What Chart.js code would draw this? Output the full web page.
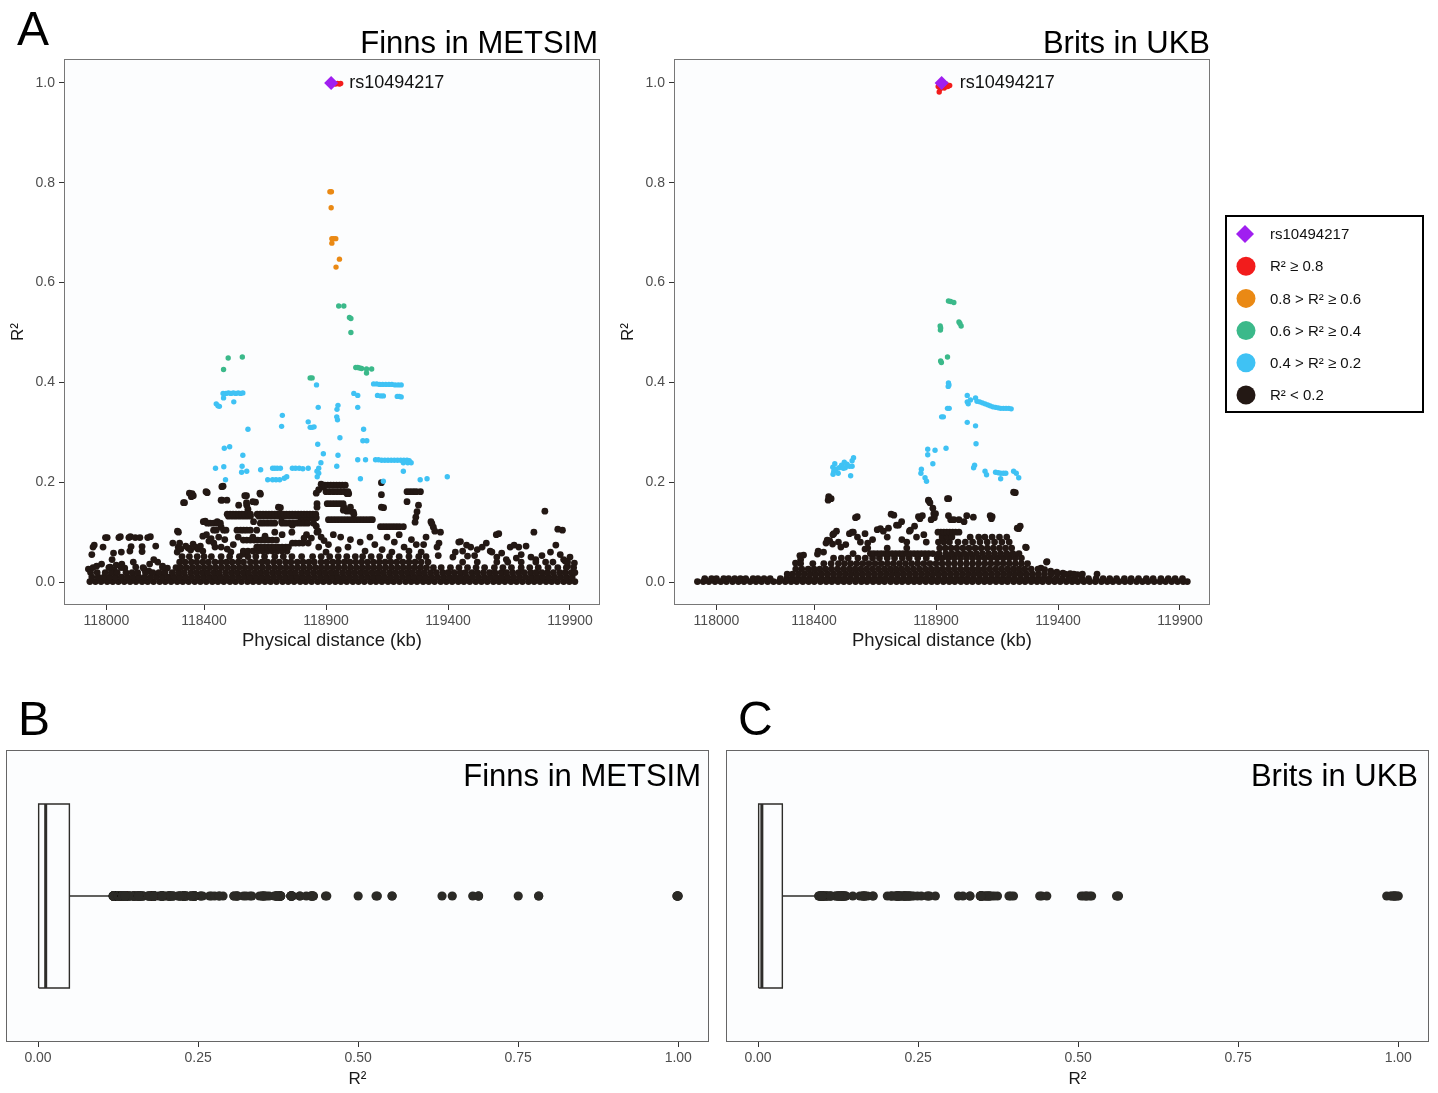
<!DOCTYPE html>
<html>
<head>
<meta charset="utf-8">
<script src="https://cdn.jsdelivr.net/npm/chart.js@4.4.1/dist/chart.umd.min.js"></script>
<style>
  body { margin: 0; background: #fff; width: 1438px; height: 1093px; position: relative; overflow: hidden; }
  .panel { position: absolute; }
</style>
</head>
<body>
<div class="panel" style="left:0;top:0"><canvas id="finnsLd" width="610" height="660"></canvas></div>
<div class="panel" style="left:612px;top:0"><canvas id="britsLd" width="826" height="660"></canvas></div>
<div class="panel" style="left:0;top:690px"><canvas id="finnsBox" width="718" height="403"></canvas></div>
<div class="panel" style="left:720px;top:690px"><canvas id="britsBox" width="718" height="403"></canvas></div>
<script>
// Figura LD: R2 com rs10494217 em Finns (METSIM) e Brits (UKB)
const fam = '"Liberation Sans", Arial, sans-serif';

// Classes de LD (ordem da legenda)
const ldLabels = ['rs10494217', 'R² ≥ 0.8', '0.8 > R² ≥ 0.6', '0.6 > R² ≥ 0.4', '0.4 > R² ≥ 0.2', 'R² < 0.2'];
const ldColors = ['#a01ff0', '#f21c1c', '#ea8914', '#3bb98a', '#3fc2f4', '#231814'];

// Eixos
const kbTicks = [118000, 118400, 118900, 119400, 119900];
const r2Ticks = [0, 0.2, 0.4, 0.6, 0.8, 1.0];
const boxTicks = [0, 0.25, 0.5, 0.75, 1.0];

// ---------- Finns in METSIM: [kb, R2] ----------
const finnsLead = [[118921, 1.0]];
const finnsRed = [[118930, 0.999], [118939, 0.998], [118947, 0.999], [118955, 0.998], [118960, 0.999]];
const finnsOrange = [[118916, 0.782], [118922, 0.782], [118921, 0.750], [118924, 0.688], [118932, 0.688], [118940, 0.688],
  [118924, 0.679], [118955, 0.647], [118941, 0.631]];
const finnsGreen = [[118952, 0.553], [118973, 0.553], [118996, 0.530], [119002, 0.528], [119002, 0.500], [118480, 0.426],
  [118499, 0.449], [118557, 0.451], [118835, 0.409], [118843, 0.409], [119022, 0.430], [119030, 0.430], [119038, 0.429],
  [119046, 0.428], [119066, 0.427], [119087, 0.427], [119066, 0.419]];
const finnsBlue = [[118450, 0.357], [118457, 0.353], [118463, 0.352],
  [118478, 0.378], [118490, 0.378], [118500, 0.379], [118510, 0.378], [118520, 0.379], [118530, 0.378], [118540, 0.379],
  [118550, 0.378], [118559, 0.379], [118480, 0.369], [118522, 0.361],
  [118580, 0.306], [118483, 0.268], [118505, 0.271], [118559, 0.254],
  [118447, 0.228], [118481, 0.231], [118556, 0.232], [118554, 0.220], [118575, 0.222], [118488, 0.205],
  [118632, 0.225], [118681, 0.228], [118690, 0.228], [118700, 0.228], [118713, 0.228], [118661, 0.205], [118681, 0.205],
  [118695, 0.205], [118710, 0.205], [118729, 0.208], [118739, 0.211], [118762, 0.228], [118775, 0.228], [118790, 0.228],
  [118805, 0.227], [118827, 0.228], [118863, 0.222], [118864, 0.211],
  [118721, 0.334], [118718, 0.312], [118827, 0.321], [118835, 0.310], [118843, 0.310], [118851, 0.311],
  [118861, 0.395], [118868, 0.350], [118866, 0.276], [118889, 0.257], [118879, 0.239], [118870, 0.228], [118870, 0.218],
  [118949, 0.354], [118945, 0.346], [118944, 0.331], [118947, 0.325], [118957, 0.289], [118949, 0.254], [118944, 0.232],
  [119014, 0.378], [119030, 0.374], [119030, 0.350], [119054, 0.306], [119051, 0.283], [119067, 0.283], [119030, 0.245],
  [119062, 0.245], [119041, 0.207],
  [119095, 0.397], [119108, 0.397], [119120, 0.396], [119132, 0.396], [119145, 0.396], [119158, 0.396], [119170, 0.396],
  [119183, 0.395], [119196, 0.395], [119208, 0.395], [119111, 0.374], [119125, 0.373], [119135, 0.373], [119192, 0.372],
  [119200, 0.372], [119208, 0.371],
  [119103, 0.245], [119115, 0.245], [119128, 0.244], [119141, 0.244], [119154, 0.244], [119167, 0.244], [119180, 0.244],
  [119193, 0.244], [119206, 0.244], [119219, 0.244], [119232, 0.244], [119241, 0.243], [119217, 0.239], [119235, 0.239],
  [119249, 0.239], [119217, 0.222], [119135, 0.202], [119286, 0.205], [119314, 0.207], [119397, 0.211]];
const finnsBlack = [[117926, 0.026], [117945, 0.070], [117950, 0.074], [117940, 0.055], [117986, 0.070], [117996, 0.089],
  [118003, 0.089], [117980, 0.036], [118023, 0.045], [118029, 0.058], [118051, 0.089], [118057, 0.091], [118061, 0.060],
  [118063, 0.036], [118092, 0.089], [118098, 0.091], [118096, 0.062], [118101, 0.071], [118118, 0.089], [118137, 0.089],
  [118146, 0.071], [118146, 0.061], [118169, 0.089], [118180, 0.091], [118177, 0.036], [118194, 0.045], [118202, 0.072],
  [118210, 0.040], [118174, 0.022], [118032, 0.024], [117960, 0.032], [118075, 0.028], [118120, 0.030], [118155, 0.026],
  [118230, 0.032], [118250, 0.028], [118015, 0.030], [118110, 0.040], [118040, 0.034],
  [118272, 0.078], [118291, 0.102], [118294, 0.070], [118295, 0.100], [118290, 0.060], [118300, 0.078], [118305, 0.066],
  [118316, 0.159], [118320, 0.159], [118325, 0.072], [118335, 0.068], [118340, 0.178], [118348, 0.171], [118351, 0.177],
  [118356, 0.173], [118345, 0.064], [118355, 0.076], [118365, 0.070], [118375, 0.066], [118385, 0.072], [118395, 0.062],
  [118397, 0.121], [118405, 0.122], [118408, 0.181], [118413, 0.179], [118429, 0.087], [118445, 0.070], [118454, 0.121],
  [118470, 0.110], [118470, 0.164], [118474, 0.164], [118473, 0.191], [118478, 0.192], [118494, 0.164], [118420, 0.082],
  [118440, 0.078], [118460, 0.090], [118485, 0.085], [118470, 0.070], [118495, 0.066], [118410, 0.095], [118395, 0.092],
  [118542, 0.154], [118574, 0.173], [118574, 0.159], [118611, 0.160], [118631, 0.176], [118600, 0.161], [118629, 0.178],
  [118575, 0.154], [118580, 0.146], [118567, 0.173], [118705, 0.150], [118713, 0.149], [118718, 0.121], [118762, 0.114],
  [118603, 0.121], [118863, 0.157], [118863, 0.150], [118860, 0.178], [118870, 0.185], [118880, 0.196], [118889, 0.190],
  [118860, 0.112], [118863, 0.100], [118868, 0.102], [118892, 0.083], [118880, 0.090], [118870, 0.070], [118840, 0.088],
  [118820, 0.095], [118993, 0.177], [118986, 0.177], [118971, 0.144], [118985, 0.142], [119000, 0.142], [119012, 0.140],
  [119232, 0.161], [119279, 0.154], [119273, 0.141], [119268, 0.130], [119265, 0.120], [119136, 0.149], [119127, 0.175],
  [119127, 0.150], [119000, 0.150], [118973, 0.150], [119014, 0.136], [119127, 0.199],
  [119334, 0.117], [119340, 0.110], [119346, 0.102], [119369, 0.100], [119363, 0.078], [119355, 0.070], [119360, 0.053],
  [119330, 0.121], [119310, 0.090], [119300, 0.075], [119290, 0.060],
  [118930, 0.095], [118960, 0.090], [119000, 0.085], [119040, 0.080], [119080, 0.090], [119100, 0.075], [119150, 0.090],
  [119180, 0.080], [119200, 0.095], [119220, 0.070], [119250, 0.085], [119130, 0.065], [119060, 0.062], [118990, 0.070],
  [118950, 0.065], [118910, 0.075], [118900, 0.060], [119170, 0.060], [119240, 0.062], [119270, 0.075], [118720, 0.095],
  [118690, 0.100], [118650, 0.092], [118600, 0.090], [118540, 0.090], [118520, 0.075], [118510, 0.060], [118560, 0.056],
  [118740, 0.062], [118760, 0.100], [118810, 0.088],
  [119444, 0.080], [119451, 0.081], [119476, 0.074], [119493, 0.070], [119509, 0.053], [119557, 0.078], [119573, 0.062],
  [119598, 0.095], [119608, 0.097], [119639, 0.045], [119655, 0.070], [119671, 0.074], [119690, 0.070], [119720, 0.072],
  [119752, 0.100], [119785, 0.053], [119797, 0.142], [119842, 0.074], [119850, 0.106], [119869, 0.104], [119874, 0.045],
  [119890, 0.032], [119918, 0.038], [119520, 0.065], [119540, 0.070], [119580, 0.060], [119620, 0.058], [119700, 0.055],
  [119740, 0.050], [119820, 0.060], [119860, 0.055], [119900, 0.050], [119420, 0.050], [119480, 0.052], [119460, 0.062],
  [119430, 0.060], [119600, 0.050], [119680, 0.048], [119760, 0.045], [119800, 0.040], [119880, 0.042]];
// faixas densas de R2 < 0.2 (cada nível com as posições em kb)
const finnsRowR2 = [0.001, 0.010, 0.019, 0.029, 0.040, 0.051, 0.062, 0.070, 0.078, 0.084,
  0.104, 0.111, 0.118, 0.125, 0.129, 0.132, 0.136, 0.157, 0.181, 0.194];
const finnsRowKb = [
  [117932, 117955, 117978, 118003, 118026, 118049, 118073, 118097, 118121, 118146, 118169, 118193, 118218, 118241, 118265,
    118290, 118313, 118337, 118362, 118385, 118409, 118434, 118457, 118481, 118506, 118529, 118553, 118578, 118601, 118625,
    118650, 118673, 118697, 118722, 118745, 118769, 118794, 118817, 118841, 118866, 118889, 118913, 118938, 118961, 118985,
    119010, 119033, 119057, 119082, 119105, 119129, 119154, 119177, 119201, 119226, 119249, 119273, 119298, 119321, 119345,
    119370, 119393, 119417, 119442, 119465, 119489, 119514, 119537, 119561, 119586, 119609, 119633, 119658, 119681, 119705,
    119730, 119753, 119777, 119802, 119825, 119849, 119874, 119897, 119920],
  [117940, 117966, 117990, 118014, 118038, 118061, 118085, 118109, 118133, 118157, 118181, 118205, 118229, 118253, 118277,
    118301, 118325, 118349, 118373, 118397, 118421, 118445, 118469, 118493, 118517, 118541, 118565, 118589, 118613, 118637,
    118661, 118685, 118709, 118733, 118757, 118781, 118805, 118829, 118853, 118877, 118901, 118925, 118949, 118973, 118997,
    119021, 119045, 119069, 119093, 119117, 119141, 119165, 119189, 119213, 119237, 119261, 119285, 119309, 119333, 119357,
    119381, 119405, 119429, 119453, 119477, 119501, 119525, 119549, 119573, 119597, 119621, 119645, 119669, 119693, 119717,
    119741, 119765, 119789, 119813, 119837, 119861, 119885, 119909],
  [117935, 117962, 117995, 118020, 118044, 118080, 118105, 118128, 118160, 118190, 118215, 118240, 118270, 118295, 118318,
    118345, 118368, 118392, 118415, 118440, 118462, 118488, 118512, 118535, 118560, 118583, 118608, 118632, 118655, 118680,
    118703, 118728, 118752, 118775, 118800, 118823, 118848, 118872, 118895, 118920, 118943, 118968, 118992, 119015, 119040,
    119063, 119088, 119112, 119135, 119160, 119183, 119208, 119232, 119255, 119280, 119303, 119328, 119352, 119378, 119400,
    119425, 119450, 119472, 119498, 119520, 119545, 119570, 119592, 119618, 119640, 119665, 119690, 119712, 119738, 119760,
    119785, 119808, 119832, 119858, 119880, 119905, 119920],
  [117945, 118010, 118060, 118150, 118230, 118285, 118305, 118328, 118352, 118376, 118400, 118424, 118448, 118472, 118496,
    118520, 118544, 118568, 118592, 118616, 118640, 118664, 118688, 118712, 118736, 118760, 118784, 118808, 118832, 118856,
    118880, 118904, 118928, 118952, 118976, 119000, 119024, 119048, 119072, 119096, 119120, 119144, 119168, 119192, 119216,
    119240, 119264, 119288, 119312, 119340, 119372, 119410, 119445, 119480, 119515, 119550, 119590, 119625, 119660, 119700,
    119735, 119770, 119810, 119850, 119885, 119915],
  [118300, 118322, 118348, 118370, 118395, 118418, 118445, 118470, 118492, 118515, 118540, 118562, 118590, 118612, 118638,
    118660, 118685, 118708, 118734, 118756, 118782, 118806, 118830, 118852, 118880, 118903, 118928, 118950, 118975, 118998,
    119022, 119046, 119070, 119094, 119118, 119142, 119166, 119190, 119215, 119240, 119265, 119290, 119318, 119460, 119520,
    119600, 119645, 119700, 119760, 119830, 119890],
  [118310, 118340, 118372, 118400, 118430, 118470, 118505, 118545, 118580, 118612, 118648, 118690, 118725, 118760, 118800,
    118845, 118880, 118915, 118950, 118985, 119020, 119050, 119085, 119120, 119160, 119200, 119240, 119280, 119310],
  [118561, 118580, 118600, 118620, 118640, 118660, 118680, 118700, 118720],
  [118616, 118630, 118645, 118660, 118675, 118690, 118705, 118720, 118735, 118746],
  [118762, 118775, 118790, 118805, 118827],
  [118561, 118575, 118590, 118605, 118620, 118635, 118650, 118665, 118680, 118697],
  [118439, 118450, 118480, 118490, 118535, 118550, 118562, 118575, 118590, 118616],
  [119123, 119136, 119149, 119162, 119175, 119188, 119201, 119217],
  [118413, 118425, 118440, 118455, 118467, 118631, 118645, 118660, 118675, 118690, 118720, 118735, 118750, 118765, 118780,
    118795, 118810, 118825, 118849],
  [118910, 118923, 118936, 118949, 118962, 118975, 118988, 119001, 119014, 119027, 119040, 119053, 119066, 119079, 119090],
  [118795, 118808, 118821, 118834, 118847, 118860],
  [118500, 118515, 118530, 118545, 118560, 118575, 118590, 118625, 118640, 118655, 118670, 118685, 118700, 118715, 118730,
    118745, 118760, 118775],
  [118495, 118507, 118519, 118531, 118543, 118555, 118567, 118579, 118590, 118618, 118630, 118642, 118654, 118666, 118678,
    118690, 118702, 118714, 118726, 118738, 118750, 118762, 118774, 118786, 118798, 118810, 118822, 118834, 118846, 118858],
  [118905, 118918, 118931, 118944, 118957, 118970],
  [118900, 118915, 118930, 118945, 118960, 118975, 118990, 119232, 119245, 119258, 119270, 119287],
  [118895, 118907, 118919, 118931, 118943, 118955, 118967, 118979]
];

// ---------- Brits in UKB: [kb, R2] ----------
const britsLead = [[118923, 1.0]];
const britsRed = [[118909, 0.993], [118913, 0.982], [118917, 0.988], [118930, 0.995], [118934, 0.990], [118941, 0.998],
  [118948, 0.993], [118956, 0.995]];
const britsOrange = [];
const britsGreen = [[118951, 0.563], [118960, 0.562], [118973, 0.560], [118917, 0.513], [118918, 0.505], [118919, 0.509],
  [118994, 0.521], [118998, 0.518], [119003, 0.513], [118919, 0.443], [118922, 0.440], [118947, 0.451]];
const britsBlue = [[118951, 0.399], [118950, 0.392], [118953, 0.395], [118947, 0.348], [118954, 0.348], [118923, 0.331],
  [118930, 0.331], [118941, 0.268], [118866, 0.266], [118896, 0.264], [118866, 0.255], [118887, 0.237], [118840, 0.226],
  [118838, 0.218], [118855, 0.209], [118861, 0.202],
  [119028, 0.374], [119028, 0.361], [119032, 0.357], [119041, 0.365], [119062, 0.369], [119068, 0.362], [119079, 0.361],
  [119090, 0.359], [119101, 0.357], [119112, 0.355], [119122, 0.353], [119133, 0.351], [119144, 0.350], [119155, 0.349],
  [119165, 0.348], [119176, 0.348], [119187, 0.348], [119198, 0.348], [119208, 0.347],
  [119028, 0.320], [119062, 0.313], [119064, 0.277], [119058, 0.234], [119054, 0.229], [119101, 0.222], [119107, 0.215],
  [119144, 0.220], [119155, 0.219], [119165, 0.218], [119176, 0.218], [119186, 0.218], [119165, 0.207], [119218, 0.222],
  [119229, 0.218], [119239, 0.209],
  [118477, 0.230], [118485, 0.237], [118481, 0.222], [118478, 0.216], [118490, 0.226], [118503, 0.229], [118513, 0.234],
  [118520, 0.228], [118524, 0.240], [118528, 0.229], [118535, 0.236], [118545, 0.232], [118556, 0.243], [118562, 0.249],
  [118556, 0.232], [118550, 0.213], [118499, 0.218]];
const britsBlack = [[118460, 0.171], [118470, 0.167], [118458, 0.164], [118577, 0.131], [118570, 0.129], [118609, 0.097],
  [118492, 0.102], [118477, 0.095], [118481, 0.097], [118464, 0.083], [118454, 0.084], [118449, 0.078], [118417, 0.062],
  [118342, 0.053], [118345, 0.045], [118324, 0.038], [118357, 0.054], [118414, 0.056], [118439, 0.060], [118476, 0.076],
  [118545, 0.097], [118556, 0.100], [118561, 0.100], [118578, 0.090], [118609, 0.066], [118659, 0.105], [118672, 0.107],
  [118684, 0.102], [118716, 0.136], [118727, 0.134], [118705, 0.108], [118738, 0.114], [118746, 0.114], [118759, 0.121],
  [118791, 0.102], [118795, 0.104], [118812, 0.112], [118828, 0.131], [118834, 0.127], [118844, 0.133], [118869, 0.164],
  [118870, 0.163], [118875, 0.159], [118887, 0.148], [118891, 0.137], [118898, 0.137], [118893, 0.129], [118880, 0.125],
  [118947, 0.167], [118952, 0.167], [118951, 0.133], [118960, 0.125], [118973, 0.125], [118994, 0.125], [119015, 0.121],
  [119026, 0.133], [119053, 0.130], [119122, 0.133], [119130, 0.131], [119127, 0.127], [119218, 0.180], [119225, 0.179],
  [119233, 0.108], [119239, 0.107], [119245, 0.112], [119267, 0.070], [119270, 0.069], [119353, 0.040], [119355, 0.041],
  [118700, 0.090], [118640, 0.085], [118620, 0.078], [118590, 0.080], [118530, 0.075], [118510, 0.070], [118500, 0.080],
  [118760, 0.085], [118780, 0.080], [118820, 0.090], [118850, 0.095], [118860, 0.080],
  [119370, 0.022], [119395, 0.020], [119420, 0.018], [119450, 0.017], [119480, 0.015], [119330, 0.028], [119345, 0.025]];
const britsRowR2 = [0.001, 0.007, 0.016, 0.026, 0.037, 0.048, 0.057, 0.068, 0.080, 0.090, 0.100];
const britsRowKb = [
  [117922, 117946, 117969, 117994, 118018, 118041, 118066, 118090, 118113, 118138, 118162, 118185, 118210, 118234, 118257,
    118282, 118306, 118329, 118354, 118378, 118401, 118426, 118450, 118473, 118498, 118522, 118545, 118570, 118594, 118617,
    118642, 118666, 118689, 118714, 118738, 118761, 118786, 118810, 118833, 118858, 118882, 118905, 118930, 118954, 118977,
    119002, 119026, 119049, 119074, 119098, 119121, 119146, 119170, 119193, 119218, 119242, 119265, 119290, 119314, 119337,
    119362, 119386, 119409, 119434, 119458, 119481, 119506, 119530, 119553, 119578, 119602, 119625, 119650, 119674, 119697,
    119722, 119746, 119769, 119794, 119818, 119841, 119866, 119890, 119913, 119930],
  [117952, 117980, 118000, 118030, 118050, 118075, 118098, 118120, 118150, 118170, 118195, 118220, 118262, 118288, 118310,
    118334, 118358, 118382, 118406, 118430, 118454, 118478, 118502, 118526, 118550, 118574, 118598, 118622, 118646, 118670,
    118694, 118718, 118742, 118766, 118790, 118814, 118838, 118862, 118886, 118910, 118934, 118958, 118982, 119006, 119030,
    119054, 119078, 119102, 119126, 119150, 119174, 119198, 119222, 119246, 119270, 119294, 119318, 119342, 119366, 119392,
    119418, 119445, 119470, 119498, 119525, 119556, 119585, 119612, 119640, 119672, 119700, 119730, 119762, 119790, 119822,
    119852, 119880, 119910],
  [118290, 118312, 118336, 118360, 118384, 118408, 118432, 118456, 118480, 118504, 118528, 118552, 118576, 118600, 118624,
    118648, 118672, 118696, 118720, 118744, 118768, 118792, 118816, 118840, 118864, 118888, 118912, 118936, 118960, 118984,
    119008, 119032, 119056, 119080, 119104, 119128, 119152, 119176, 119200, 119224, 119248, 119272, 119296, 119320, 119345,
    119372, 119398, 119430, 119465, 119500, 119560],
  [118325, 118350, 118376, 118400, 118424, 118448, 118472, 118496, 118520, 118544, 118568, 118592, 118616, 118640, 118664,
    118688, 118712, 118736, 118760, 118784, 118808, 118832, 118856, 118880, 118904, 118928, 118952, 118976, 119000, 119024,
    119048, 119072, 119096, 119120, 119144, 119168, 119192, 119216, 119240, 119264, 119290, 119318],
  [118345, 118395, 118440, 118470, 118500, 118525, 118550, 118575, 118600, 118625, 118650, 118675, 118700, 118725, 118750,
    118775, 118800, 118825, 118850, 118875, 118900, 118925, 118950, 118975, 119000, 119025, 119050, 119075, 119100, 119125,
    119150, 119175, 119200, 119225, 119250, 119275],
  [118480, 118512, 118540, 118580, 118610, 118640, 118668, 118700, 118730, 118762, 118790, 118825, 118860, 118905, 118925,
    118950, 118975, 119000, 119025, 119050, 119075, 119100, 119125, 119150, 119175, 119200, 119225, 119250],
  [118560, 118631, 118645, 118660, 118675, 118690, 118705, 118720, 118735, 118750, 118765, 118780, 118795, 118810, 118825,
    118840, 118855, 118870, 118887, 118912, 118940, 118965, 118990, 119015, 119040, 119065, 119090, 119115, 119140, 119165,
    119190, 119215, 119240],
  [118620, 118700, 118780, 118915, 118938, 118962, 118985, 119010, 119035, 119060, 119085, 119110, 119135, 119160, 119185,
    119210],
  [118910, 118932, 118955, 118990, 119020, 119050, 119080, 119110, 119140, 119170, 119200],
  [118925, 118945, 118965, 119040, 119075, 119100, 119130, 119160, 119190],
  [118908, 118920, 118932, 118944, 118956, 118968, 118980, 118994]
];

// Resumo do boxplot de R2: [limite inferior, Q1, mediana, Q3, limite superior]
const finnsBoxStats = [0.0, 0.001, 0.012, 0.049, 0.116];
const britsBoxStats = [0.0, 0.001, 0.006, 0.038, 0.091];

Chart.defaults.font.family = fam;

// Converte pares e faixas em pontos para o Chart.js
function pares(lista) {
  return lista.map(([kb, r2]) => ({ x: kb, y: r2 }));
}
function faixas(niveis, linhas) {
  const pts = [];
  niveis.forEach((r2, i) => linhas[i].forEach(kb => pts.push({ x: kb, y: r2 })));
  return pts;
}

// Moldura e fundo da área do gráfico
function moldura(cor) {
  return {
    id: 'moldura',
    beforeDatasetsDraw(chart) {
      const a = chart.chartArea, ctx = chart.ctx;
      ctx.save();
      ctx.fillStyle = '#fcfdfe';
      ctx.fillRect(a.left, a.top, a.right - a.left, a.bottom - a.top);
      ctx.restore();
    },
    afterDatasetsDraw(chart) {
      const a = chart.chartArea, ctx = chart.ctx;
      ctx.save();
      ctx.strokeStyle = cor;
      ctx.lineWidth = 1;
      ctx.strokeRect(a.left + 0.5, a.top + 0.5, a.right - a.left - 1, a.bottom - a.top - 1);
      ctx.restore();
    }
  };
}

// Letra do painel e título
function textos(letra, titulo, tituloDir, tituloBase, tamTitulo, letraX, letraBase) {
  return {
    id: 'textos',
    afterDraw(chart) {
      const ctx = chart.ctx;
      ctx.save();
      ctx.fillStyle = '#000';
      ctx.textBaseline = 'alphabetic';
      if (letra) {
        ctx.font = `48px ${fam}`;
        ctx.textAlign = 'left';
        ctx.fillText(letra, letraX, letraBase);
      }
      ctx.font = `${tamTitulo}px ${fam}`;
      ctx.textAlign = 'right';
      ctx.fillText(titulo, tituloDir, tituloBase);
      ctx.restore();
    }
  };
}

// Rótulo do SNP índice ao lado do losango
const rotuloLead = {
  id: 'rotuloLead',
  afterDatasetsDraw(chart) {
    const p = chart.getDatasetMeta(0).data[0];
    if (!p) return;
    const ctx = chart.ctx;
    ctx.save();
    ctx.fillStyle = '#111';
    ctx.font = `18px ${fam}`;
    ctx.textAlign = 'left';
    ctx.textBaseline = 'middle';
    ctx.fillText(chart.data.datasets[0].label, p.x + 18, p.y);
    ctx.restore();
  }
};

// Legenda com caixa (desenhada no painel de Brits)
const legendaLd = {
  id: 'legendaLd',
  afterDraw(chart) {
    const ctx = chart.ctx;
    ctx.save();
    ctx.lineWidth = 2;
    ctx.strokeStyle = '#000';
    ctx.strokeRect(614, 216, 197, 196);
    chart.data.datasets.forEach((ds, i) => {
      const y = 234 + i * 32.2;
      ctx.fillStyle = ds.backgroundColor;
      ctx.beginPath();
      if (ds.pointStyle === 'rectRot') {
        ctx.moveTo(633, y - 9); ctx.lineTo(642, y); ctx.lineTo(633, y + 9); ctx.lineTo(624, y);
        ctx.closePath();
      } else {
        ctx.arc(634, y, 9.5, 0, Math.PI * 2);
      }
      ctx.fill();
      ctx.fillStyle = '#111';
      ctx.font = `15px ${fam}`;
      ctx.textAlign = 'left';
      ctx.textBaseline = 'middle';
      ctx.fillText(ds.label, 658, y + 1);
    });
    ctx.restore();
  }
};

// Gráfico regional de LD
function graficoLd(id, grupos, larguraEixoY, padTituloY, padDireita, plugins) {
  const datasets = grupos.map((g, i) => ({
    label: ldLabels[i],
    data: g,
    backgroundColor: ldColors[i],
    borderWidth: 0,
    pointStyle: i === 0 ? 'rectRot' : 'circle',
    pointRadius: i === 0 ? 7 : (i === 5 ? 3.4 : 2.7),
    pointHoverRadius: i === 0 ? 7 : 3
  }));
  return new Chart(document.getElementById(id), {
    type: 'scatter',
    data: { datasets },
    plugins: [moldura('#777'), rotuloLead, ...plugins],
    options: {
      responsive: false,
      animation: false,
      events: [],
      devicePixelRatio: 1,
      layout: { padding: { top: 59, right: padDireita, left: 0, bottom: 0 } },
      plugins: { legend: { display: false }, tooltip: { enabled: false } },
      scales: {
        x: {
          type: 'linear', min: 117826, max: 120023,
          afterBuildTicks: s => { s.ticks = kbTicks.map(v => ({ value: v })); },
          afterFit: s => { s.height = 55; },
          ticks: { callback: v => String(v), color: '#4d4d4d', font: { size: 14 }, padding: 3, autoSkip: false, maxRotation: 0 },
          grid: { drawOnChartArea: false, drawTicks: true, tickLength: 5, tickColor: '#333' },
          border: { display: false },
          title: { display: true, text: 'Physical distance (kb)', color: '#1a1a1a', font: { size: 18.5 }, padding: { top: 0, bottom: 8 } }
        },
        y: {
          type: 'linear', min: -0.046, max: 1.048,
          afterBuildTicks: s => { s.ticks = r2Ticks.map(v => ({ value: v })); },
          afterFit: s => { s.width = larguraEixoY; },
          ticks: { callback: v => v.toFixed(1), color: '#4d4d4d', font: { size: 14 }, padding: 4 },
          grid: { drawOnChartArea: false, drawTicks: true, tickLength: 5, tickColor: '#333' },
          border: { display: false },
          title: { display: true, text: 'R²', color: '#1a1a1a', font: { size: 17 }, padding: { top: padTituloY, bottom: 0 } }
        }
      }
    }
  });
}

// Boxplot horizontal de R2 (caixa, mediana e bigodes como linhas; outliers como pontos)
function graficoBox(id, valores, stats, plugins) {
  const [lo, q1, med, q3, hi] = stats;
  const base = 0.185, topo = 0.815, meio = 0.5;
  const outliers = valores.filter(v => v > hi);
  const linha = (data, w) => ({ data, showLine: true, borderColor: '#2e2d2a', borderWidth: w, pointRadius: 0, fill: false });
  return new Chart(document.getElementById(id), {
    type: 'scatter',
    data: {
      datasets: [
        { data: outliers.map(v => ({ x: v, y: meio })), backgroundColor: '#2b2a26', borderWidth: 0, pointRadius: 4.6 },
        linha([{ x: q1, y: base }, { x: q3, y: base }, { x: q3, y: topo }, { x: q1, y: topo }, { x: q1, y: base }], 1.4),
        linha([{ x: med, y: base }, { x: med, y: topo }], 3),
        linha([{ x: q3, y: meio }, { x: hi, y: meio }], 1.4),
        linha([{ x: lo, y: meio }, { x: q1, y: meio }], 1.4)
      ]
    },
    plugins: [moldura('#666'), ...plugins],
    options: {
      responsive: false,
      animation: false,
      events: [],
      devicePixelRatio: 1,
      layout: { padding: { top: 60, right: 9, left: 6, bottom: 0 } },
      plugins: { legend: { display: false }, tooltip: { enabled: false } },
      scales: {
        x: {
          type: 'linear', min: -0.05, max: 1.048,
          afterBuildTicks: s => { s.ticks = boxTicks.map(v => ({ value: v })); },
          afterFit: s => { s.height = 51; },
          ticks: { callback: v => v.toFixed(2), color: '#4d4d4d', font: { size: 14 }, padding: 3, autoSkip: false, maxRotation: 0 },
          grid: { drawOnChartArea: false, drawTicks: true, tickLength: 5, tickColor: '#333' },
          border: { display: false },
          title: { display: true, text: 'R²', color: '#1a1a1a', font: { size: 17 }, padding: { top: 0, bottom: 3 } }
        },
        y: { type: 'linear', min: 0, max: 1, display: false }
      }
    }
  });
}

// Monta os grupos de cada população
const gruposFinns = [pares(finnsLead), pares(finnsRed), pares(finnsOrange), pares(finnsGreen), pares(finnsBlue),
  pares(finnsBlack).concat(faixas(finnsRowR2, finnsRowKb))];
const gruposBrits = [pares(britsLead), pares(britsRed), pares(britsOrange), pares(britsGreen), pares(britsBlue),
  pares(britsBlack).concat(faixas(britsRowR2, britsRowKb))];

graficoLd('finnsLd', gruposFinns, 64, 8, 10, [textos('A', 'Finns in METSIM', 598, 53, 31, 17, 45)]);
graficoLd('britsLd', gruposBrits, 62, 6, 228, [textos('', 'Brits in UKB', 598, 53, 31, 0, 0), legendaLd]);

const r2Finns = gruposFinns.flat().map(p => p.y);
const r2Brits = gruposBrits.flat().map(p => p.y);
graficoBox('finnsBox', r2Finns, finnsBoxStats, [textos('B', 'Finns in METSIM', 701, 96, 31, 18, 45)]);
graficoBox('britsBox', r2Brits, britsBoxStats, [textos('C', 'Brits in UKB', 698, 96, 31, 18, 45)]);
</script>
</body>
</html>
